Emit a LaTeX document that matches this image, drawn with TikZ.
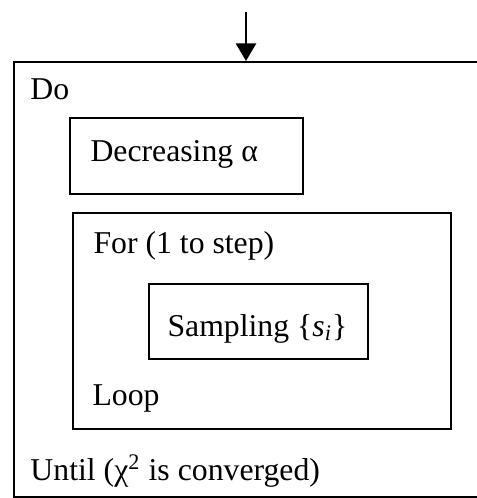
\documentclass[tikz,border=0pt]{standalone}
\usepackage{fontspec}
\setmainfont{Liberation Serif}
\usepackage{tikz}
\usetikzlibrary{arrows.meta, positioning}

\begin{document}
\begin{tikzpicture}[
    x=0.4pt, y=-0.4pt,
    frame/.style={rectangle, draw, line width=0.9pt, inner sep=0pt, anchor=north west},
    label/.style={anchor=base west, inner sep=0pt, font=\fontsize{12.7}{15}\selectfont},
    line/.style={draw, line width=0.9pt, -{Triangle[width=8pt,length=7pt]}}
]
    \clip (0,0) rectangle (477,498);
    \fill[white] (0,0) rectangle (477,498);

    \node [frame, minimum width=191.6pt, minimum height=174pt] (outer) at (13,61) {};
    \node [frame, minimum width=93.2pt, minimum height=30.4pt] (decbox) at (69,117) {};
    \node [frame, minimum width=151.2pt, minimum height=86.4pt] (forbox) at (72,212) {};
    \node [frame, minimum width=87.6pt, minimum height=30pt] (sampbox) at (148,283) {};

    \node [label] (dotext) at (30,100) {Do};
    \node [label] (dectext) at (90,162) {Decreasing α};
    \node [label] (fortext) at (93,253) {For (1 to step)};
    \node [label] (samptext) at (167,336) {Sampling \{\textit{s}\textsubscript{\textit{i}}\}};
    \node [label] (looptext) at (92,405) {Loop};
    \node [label] (untiltext) at (30,480) {Until (χ\textsuperscript{2} is converged)};

    \coordinate (entry) at (246,12);
    \path [line] (entry) -- (entry |- outer.north);
\end{tikzpicture}
\end{document}
